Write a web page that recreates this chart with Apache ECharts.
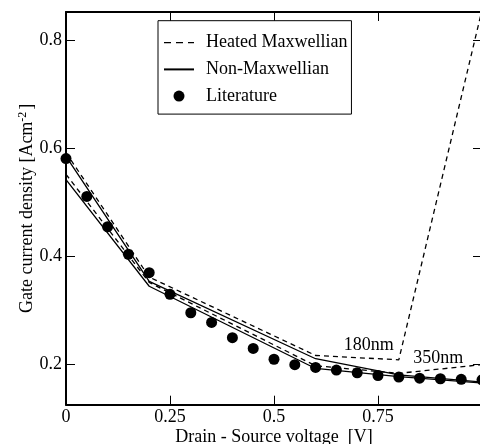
<!DOCTYPE html>
<html>
<head>
<meta charset="utf-8">
<script src="https://cdn.jsdelivr.net/npm/echarts@6/dist/echarts.min.js"></script>
<style>
html,body{margin:0;padding:0;background:#fff;}
#main{width:480px;height:444px;}
</style>
</head>
<body>
<div id="main"></div>
<script>
// literature points
var xLit = [0, 0.05, 0.1, 0.15, 0.2, 0.25, 0.3, 0.35, 0.4, 0.45, 0.5, 0.55, 0.6, 0.65, 0.7, 0.75, 0.8, 0.85, 0.9, 0.95, 1.0];
var yLit = [0.581, 0.511, 0.455, 0.404, 0.370, 0.330, 0.296, 0.278, 0.250, 0.230, 0.210, 0.200, 0.195, 0.190, 0.185, 0.180, 0.177, 0.175, 0.174, 0.173, 0.172];

// simulated curves
var xSim = [0, 0.2, 0.6, 0.8, 1.0];
var heated180 = [0.592, 0.362, 0.217, 0.209, 0.856];
var nonMax180 = [0.585, 0.354, 0.211, 0.181, 0.168];
var heated350 = [0.552, 0.352, 0.198, 0.184, 0.200];
var nonMax350 = [0.542, 0.345, 0.193, 0.178, 0.166];

var xTicks = [0, 0.25, 0.5, 0.75];
var yTicks = [0.2, 0.4, 0.6, 0.8];
var legendNames = ['Heated Maxwellian', 'Non-Maxwellian', 'Literature'];
var curveLabels = ['180nm', '350nm'];

function pairs(xs, ys) {
    var out = [];
    for (var i = 0; i < xs.length; i++) out.push([xs[i], ys[i]]);
    return out;
}

var font = 'Liberation Serif';
var chart = echarts.init(document.getElementById('main'));

function lineSeries(name, ys, dashed, labelText, labelAt) {
    var s = {
        name: name,
        type: 'line',
        data: pairs(xSim, ys),
        symbol: 'none',
        lineStyle: { color: '#000', width: 1.3, type: dashed ? [5, 4] : 'solid' },
        itemStyle: { color: '#000' },
        z: 2
    };
    if (labelText) {
        s.markPoint = {
            symbol: 'rect',
            symbolSize: 1,
            itemStyle: { color: 'rgba(0,0,0,0)' },
            label: { show: true, position: 'inside', formatter: labelText, color: '#000', fontFamily: font, fontSize: 18 },
            data: [{ coord: labelAt }]
        };
    }
    return s;
}

// line entries in the legend: hide the dot the line icon adds
var hiddenDot = { color: 'rgba(0,0,0,0)', borderWidth: 0, opacity: 0 };
var legendData = [
    { name: legendNames[0], itemStyle: hiddenDot, lineStyle: { type: [7, 5], width: 1.3 } },
    { name: legendNames[1], itemStyle: hiddenDot },
    { name: legendNames[2] }
];

var option = {
    backgroundColor: '#fff',
    animation: false,
    grid: { left: 66, right: -2, top: 12, bottom: 39.3, outerBoundsMode: 'none' },
    legend: {
        data: legendData,
        orient: 'vertical',
        left: 158,
        top: 20.7,
        padding: [13, 4, 9, 5],
        itemGap: 8.7,
        itemWidth: 30,
        itemHeight: 11,
        backgroundColor: '#fff',
        borderColor: '#000',
        borderWidth: 1,
        textStyle: { color: '#000', fontFamily: font, fontSize: 18, padding: [0, 0, 0, 7] }
    },
    xAxis: [{
        type: 'value', min: 0, max: 1,
        name: 'Drain - Source voltage  [V]',
        nameLocation: 'middle', nameGap: 24, nameMoveOverlap: false,
        nameTextStyle: { color: '#000', fontFamily: font, fontSize: 18 },
        axisLine: { show: true, onZero: false, lineStyle: { color: '#000', width: 2 } },
        axisTick: { show: true, inside: true, length: 9, customValues: [0.25, 0.5, 0.75], lineStyle: { color: '#000', width: 1 } },
        axisLabel: { customValues: xTicks, margin: 4, color: '#000', fontFamily: font, fontSize: 18, formatter: function (v) { return String(v); } },
        splitLine: { show: false }
    }, {
        type: 'value', min: 0, max: 1, position: 'top',
        axisLine: { show: true, onZero: false, lineStyle: { color: '#000', width: 2 } },
        axisTick: { show: true, inside: true, length: 9, customValues: [0.25, 0.5, 0.75], lineStyle: { color: '#000', width: 1 } },
        axisLabel: { show: false },
        splitLine: { show: false }
    }],
    yAxis: [{
        type: 'value', min: 0.126, max: 0.852,
        name: 'Gate current density [Acm{sup|-2}]',
        nameLocation: 'middle', nameGap: 29, nameMoveOverlap: false,
        nameTextStyle: {
            color: '#000', fontFamily: font, fontSize: 18,
            rich: { sup: { fontSize: 12, fontFamily: font, color: '#000', verticalAlign: 'top', padding: [0, 2, 8, 0] } }
        },
        axisLine: { show: true, onZero: false, lineStyle: { color: '#000', width: 2 } },
        axisTick: { show: true, inside: true, length: 9, customValues: yTicks, lineStyle: { color: '#000', width: 1 } },
        axisLabel: { customValues: yTicks, margin: 4, color: '#000', fontFamily: font, fontSize: 18, formatter: function (v) { return String(v); } },
        splitLine: { show: false }
    }, {
        type: 'value', min: 0.126, max: 0.852, position: 'right',
        axisLine: { show: true, onZero: false, lineStyle: { color: '#000', width: 2 } },
        axisTick: { show: true, inside: true, length: 9, customValues: yTicks, lineStyle: { color: '#000', width: 1 } },
        axisLabel: { show: false },
        splitLine: { show: false }
    }],
    series: [
        lineSeries('Heated Maxwellian', heated180, true, curveLabels[0], [0.728, 0.2365]),
        lineSeries('Non-Maxwellian', nonMax180, false),
        lineSeries('Heated Maxwellian', heated350, true, curveLabels[1], [0.895, 0.2124]),
        lineSeries('Non-Maxwellian', nonMax350, false),
        {
            name: 'Literature',
            type: 'scatter',
            data: pairs(xLit, yLit),
            symbol: 'circle',
            symbolSize: 11,
            itemStyle: { color: '#000', opacity: 1 },
            z: 3
        }
    ]
};

chart.setOption(option);
</script>
</body>
</html>
